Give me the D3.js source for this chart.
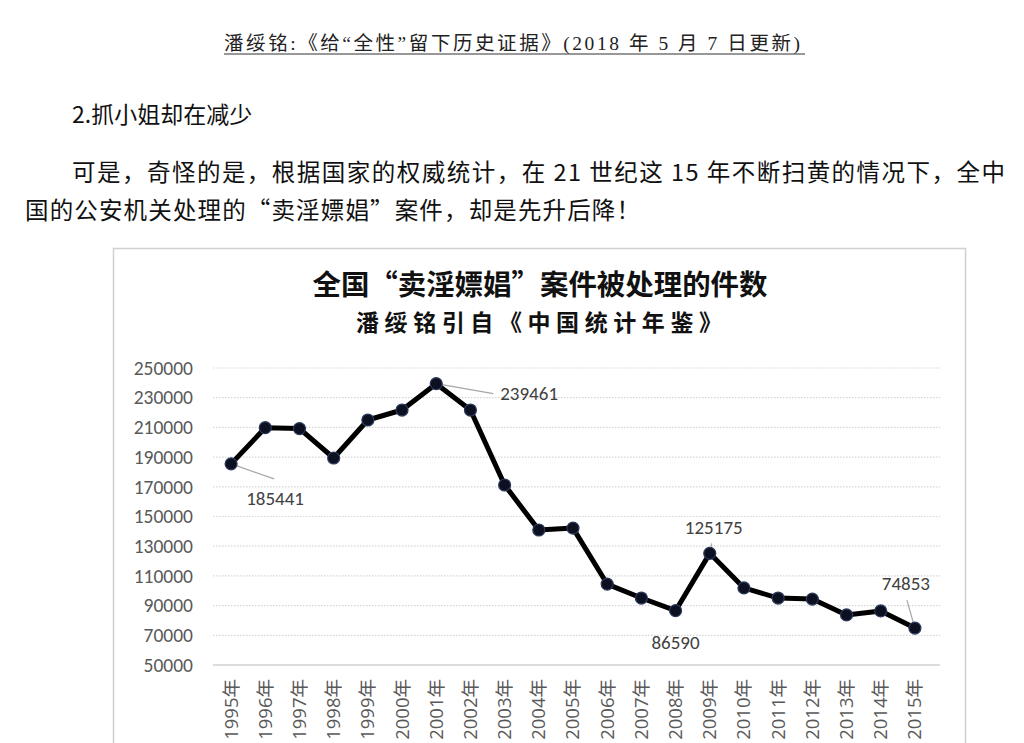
<!DOCTYPE html>
<html lang="zh">
<head>
  <meta charset="UTF-8">
  <title>全国“卖淫嫖娼”案件被处理的件数</title>
  <script src="https://d3js.org/d3.v7.min.js"></script>
  <style>
    body { margin: 0; padding: 0; background: #fff; }
    svg { display: block; }
  </style>
</head>
<body>
  <div id="page"></div>
  <script>
    // data
    const years = ["1995","1996","1997","1998","1999","2000","2001","2002","2003","2004","2005",
                   "2006","2007","2008","2009","2010","2011","2012","2013","2014","2015"];
    const cases = [185441, 209800, 209200, 189400, 215000, 221700, 239461, 221700, 171200, 140900, 142200,
                   104500, 95100, 86590, 125175, 101900, 95100, 94400, 83700, 86400, 74853];
    const yTicks = [50000, 70000, 90000, 110000, 130000, 150000, 170000, 190000, 210000, 230000, 250000];
    const labelled = ["1995", "2001", "2008", "2009", "2015"];

    const W = 1024, H = 743;
    const cjk = "'Noto Sans CJK SC', 'Noto Sans', sans-serif";
    const numFont = "Carlito, 'Open Sans', 'Liberation Sans', sans-serif";
    const svg = d3.select("#page").append("svg").attr("width", W).attr("height", H);

    // document text around the chart
    svg.append("text")
      .attr("x", 224).attr("y", 50)
      .attr("textLength", 576).attr("lengthAdjust", "spacing")
      .style("font-family", "'Liberation Serif', 'Noto Sans CJK SC', serif")
      .style("font-size", "19.5px").style("fill", "#222")
      .text("潘绥铭:《给“全性”留下历史证据》(2018 年 5 月 7 日更新)");
    svg.append("line")
      .attr("x1", 224).attr("x2", 805).attr("y1", 54).attr("y2", 54)
      .attr("stroke", "#333").attr("stroke-width", 1.2);

    svg.append("text")
      .attr("x", 72).attr("y", 123)
      .style("font-family", cjk).style("font-size", "23px").style("fill", "#111")
      .text("2.抓小姐却在减少");

    svg.append("text")
      .attr("x", 72).attr("y", 181)
      .attr("textLength", 933).attr("lengthAdjust", "spacing")
      .style("font-family", cjk).style("font-size", "23.5px").style("fill", "#111")
      .text("可是，奇怪的是，根据国家的权威统计，在 21 世纪这 15 年不断扫黄的情况下，全中");
    svg.append("text")
      .attr("x", 25).attr("y", 219)
      .attr("textLength", 615).attr("lengthAdjust", "spacing")
      .style("font-family", cjk).style("font-size", "23.5px").style("fill", "#111")
      .text("国的公安机关处理的“卖淫嫖娼”案件，却是先升后降！");

    // chart frame
    svg.append("rect")
      .attr("x", 113.5).attr("y", 248.5).attr("width", 852).attr("height", 520)
      .attr("fill", "#fff").attr("stroke", "#d0d0d0").attr("stroke-width", 1.5);

    svg.append("text")
      .attr("x", 540).attr("y", 295)
      .attr("text-anchor", "middle")
      .attr("textLength", 455).attr("lengthAdjust", "spacingAndGlyphs")
      .style("font-family", cjk).style("font-size", "28px").style("font-weight", "bold").style("fill", "#111")
      .text("全国“卖淫嫖娼”案件被处理的件数");
    svg.append("text")
      .attr("x", 539).attr("y", 331)
      .attr("text-anchor", "middle")
      .attr("textLength", 366).attr("lengthAdjust", "spacing")
      .style("font-family", cjk).style("font-size", "23px").style("font-weight", "bold").style("fill", "#111")
      .text("潘绥铭引自《中国统计年鉴》");

    const plotL = 213, plotR = 940, plotT = 368, plotB = 665;
    const x = d3.scaleBand().domain(years).range([214, 932]);
    const y = d3.scaleLinear().domain([50000, 250000]).range([plotB, plotT]);
    const cx = d => x(d) + x.bandwidth() / 2;

    // gridlines
    svg.append("g")
      .selectAll("line")
      .data(yTicks.slice(1))
      .join("line")
      .attr("x1", plotL).attr("x2", plotR)
      .attr("y1", d => y(d)).attr("y2", d => y(d))
      .attr("stroke", "#d6d6d6").attr("stroke-width", 1.2)
      .attr("stroke-dasharray", "1.5,1.5");
    svg.append("line")
      .attr("x1", plotL).attr("x2", plotR).attr("y1", y(50000)).attr("y2", y(50000))
      .attr("stroke", "#d0d0d0").attr("stroke-width", 1.5);

    // y axis labels
    const yAxis = svg.append("g")
      .attr("transform", `translate(${plotL - 20},0)`)
      .call(d3.axisLeft(y).tickValues(yTicks).tickSize(0).tickPadding(0).tickFormat(d3.format("d")));
    yAxis.select(".domain").remove();
    yAxis.selectAll("text")
      .style("font-family", numFont)
      .style("font-size", "19.5px").style("fill", "#595959");

    // x axis labels, rotated
    const xAxis = svg.append("g")
      .attr("transform", `translate(0,${plotB + 14})`)
      .call(d3.axisBottom(x).tickSize(0).tickFormat(d => d + "年"));
    xAxis.select(".domain").remove();
    xAxis.selectAll("text")
      .attr("transform", "rotate(-90)")
      .attr("x", 0).attr("y", 0).attr("dy", "0.35em")
      .attr("text-anchor", "end")
      .style("font-family", "'Open Sans', 'Noto Sans CJK SC', sans-serif")
      .style("font-size", "18.5px").style("fill", "#595959");

    // line and markers
    const pts = years.map((d, i) => ({ year: d, value: cases[i] }));
    svg.append("path")
      .datum(pts)
      .attr("fill", "none").attr("stroke", "#000").attr("stroke-width", 5)
      .attr("stroke-linejoin", "round")
      .attr("d", d3.line().x(d => cx(d.year)).y(d => y(d.value)));

    // data labels with leader lines
    const labelPos = {
      "1995": { dx: 44, dy: 34, lx: 43, ly: 15, anchor: "middle" },
      "2001": { dx: 64, dy: 10, lx: 57, ly: 10, anchor: "start" },
      "2008": { dx: 0, dy: 32, lx: null, anchor: "middle" },
      "2009": { dx: 4, dy: -26, lx: 2, ly: -10, anchor: "middle" },
      "2015": { dx: -9, dy: -45, lx: -8, ly: -28, anchor: "middle" }
    };
    const ann = svg.append("g");
    pts.filter(d => labelled.includes(d.year)).forEach(d => {
      const p = labelPos[d.year];
      const px = cx(d.year), py = y(d.value);
      if (p.lx !== null) {
        ann.append("line")
          .attr("x1", px).attr("y1", py).attr("x2", px + p.lx).attr("y2", py + p.ly)
          .attr("stroke", "#a6a6a6").attr("stroke-width", 1.2);
      }
      ann.append("text")
        .attr("x", px + p.dx).attr("y", py + p.dy)
        .attr("text-anchor", p.anchor)
        .attr("dy", "0.35em")
        .style("font-family", numFont)
        .style("font-size", "19px").style("fill", "#404040")
        .text(d.value);
    });

    svg.append("g")
      .selectAll("circle")
      .data(pts)
      .join("circle")
      .attr("cx", d => cx(d.year)).attr("cy", d => y(d.value))
      .attr("r", 6)
      .attr("fill", "#0d1020").attr("stroke", "#2b3a5c").attr("stroke-width", 1.2);
  </script>
</body>
</html>
